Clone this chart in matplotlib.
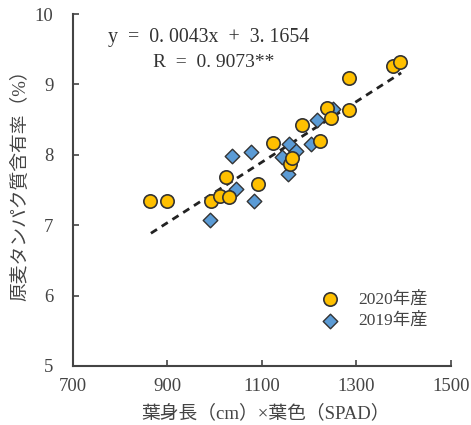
import numpy as np
import matplotlib
matplotlib.use("Agg")
import matplotlib.pyplot as plt

plt.rcParams["font.family"] = ["Liberation Serif", "Noto Sans CJK JP", "DejaVu Sans"]

# 2020年産 (circles)
x2020 = [863, 900, 993, 1011, 1025, 1030, 1091, 1124, 1159, 1163,
         1185, 1223, 1237, 1246, 1284, 1284, 1377, 1393]
y2020 = [7.35, 7.35, 7.35, 7.42, 7.68, 7.40, 7.59, 8.17, 7.87, 7.96,
         8.42, 8.20, 8.67, 8.52, 8.63, 9.09, 9.26, 9.32]

# 2019年産 (diamonds)
x2019 = [990, 1036, 1045, 1076, 1083, 1142, 1156, 1158, 1173, 1204, 1216, 1251]
y2019 = [7.07, 7.98, 7.51, 8.04, 7.35, 7.97, 7.72, 8.15, 8.06, 8.15, 8.49, 8.65]

slope, intercept = 0.0043, 3.1654
fit_x = [865, 1395]

fig = plt.figure(figsize=(4.71, 4.25), dpi=100)
ax = fig.add_axes([0.155, 0.139, 0.802, 0.828])

lx = np.array(fit_x)
ax.plot(lx, slope * lx + intercept, "--", color="#222222", lw=2.0, dashes=(2.6, 2.0), zorder=1)

ax.scatter(x2020, y2020, s=92, marker="o", color="#FFC000", edgecolor="#333333",
           linewidth=1.2, zorder=3, label="2020年産")
ax.scatter(x2019, y2019, s=55, marker="D", color="#5B9BD5", edgecolor="#333333",
           linewidth=1.0, zorder=2, label="2019年産")

ax.text(774, 9.67, "y  =  0. 0043x  +  3. 1654", fontsize=14.3, color="#333333", va="center")
ax.text(869, 9.31, "R  =  0. 9073**", fontsize=14, color="#333333", va="center")

ax.set_xlim(700, 1500)
ax.set_ylim(5, 10)
ax.set_xticks([700, 900, 1100, 1300, 1500])
ax.set_yticks([5, 6, 7, 8, 9, 10])
ax.tick_params(direction="in", length=4, width=1.2, labelsize=13.5, colors="#444444",
               labelcolor="#444444")
ax.tick_params(axis="y", pad=14)
ax.tick_params(axis="x", pad=9)
for s in ["top", "right"]:
    ax.spines[s].set_visible(False)
for s in ["left", "bottom"]:
    ax.spines[s].set_color("#444444")
    ax.spines[s].set_linewidth(1.5)

ax.set_xlabel("葉身長（cm）×葉色（SPAD）", fontsize=13.5, color="#444444")
ax.set_ylabel("原麦タンパク質含有率（%）", fontsize=13.5, color="#444444")
ax.xaxis.set_label_coords(0.51, -0.134)
ax.yaxis.set_label_coords(-0.14, 0.526)
ax.xaxis.label.set_va("center")
ax.yaxis.label.set_va("center")

ax.legend(loc="lower right", bbox_to_anchor=(0.97, 0.07), frameon=False, fontsize=12.5,
          labelcolor="#444444", handletextpad=0.6, borderpad=0.2, labelspacing=0.3)

fig.savefig("out.png", dpi=100)
